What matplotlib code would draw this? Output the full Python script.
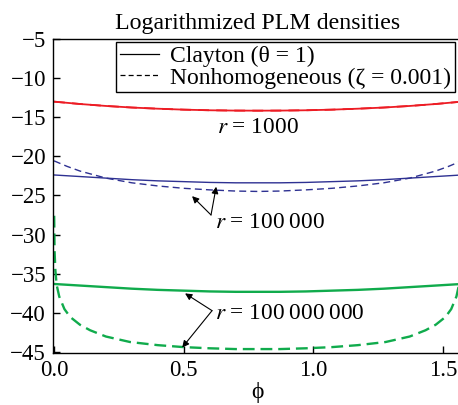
import numpy as np
import matplotlib
matplotlib.use("Agg")
import matplotlib.pyplot as plt

plt.rcParams['font.family'] = ['Liberation Serif', 'DejaVu Serif']
plt.rcParams['mathtext.fontset'] = 'stix'

# half grid (0 .. pi/4), the curves are mirrored about pi/4
phi_half = [0.0, 0.1, 0.2, 0.3, 0.4, 0.5, 0.6, 0.7, 0.785]
red_solid_half = [-13.05, -13.35, -13.6, -13.8, -13.95, -14.07, -14.15, -14.19, -14.2]
red_dash_half = [-13.05, -13.35, -13.6, -13.8, -13.95, -14.07, -14.15, -14.19, -14.2]
blue_solid_half = [-22.4, -22.6, -22.8, -23.0, -23.15, -23.25, -23.35, -23.4, -23.4]
blue_dash_phi_half = [0.0, 0.05, 0.1, 0.2, 0.3, 0.4, 0.5, 0.6, 0.7, 0.785]
blue_dash_half = [-20.6, -21.3, -21.9, -22.8, -23.4, -23.8, -24.1, -24.3, -24.45, -24.5]
green_solid_half = [-36.3, -36.5, -36.7, -36.9, -37.05, -37.15, -37.25, -37.3, -37.3]
green_dash_phi_half = [0.0005, 0.002, 0.005, 0.01, 0.02, 0.04, 0.062, 0.1, 0.139,
                       0.2, 0.293, 0.4, 0.5, 0.6, 0.7, 0.785]
green_dash_half = [-27.6, -32.0, -34.5, -36.4, -37.9, -39.5, -40.5, -41.5, -42.2,
                   -43.0, -43.7, -44.1, -44.35, -44.5, -44.6, -44.6]


def mirror(xs, ys):
    xs = np.array(xs)
    ys = np.array(ys)
    x2 = np.pi / 2 - xs[::-1][1:]
    return np.concatenate([xs, x2]), np.concatenate([ys, ys[::-1][1:]])


red = '#ed1c24'
blue = '#2e3192'
green = '#10ab4c'

fig = plt.figure(figsize=(4.58, 4.05), dpi=100)
ax = fig.add_axes([53 / 458, 0.1284, 408.6 / 458, 0.7765])

x, y = mirror(phi_half, red_solid_half)
ax.plot(x, y, color=red, lw=1.3)
x, y = mirror(phi_half, red_dash_half)
ax.plot(x, y, color=red, lw=1.3, ls=(0, (6, 4)))
x, y = mirror(phi_half, blue_solid_half)
ax.plot(x, y, color=blue, lw=1.0)
x, y = mirror(blue_dash_phi_half, blue_dash_half)
ax.plot(x, y, color=blue, lw=1.0, ls=(0, (5, 3)))
x, y = mirror(phi_half, green_solid_half)
ax.plot(x, y, color=green, lw=1.7)
x, y = mirror(green_dash_phi_half, green_dash_half)
ax.plot(x, y, color=green, lw=1.7, ls=(0, (5, 2.5)))

# legend entries in black
ax.plot([], [], color='k', lw=0.9, label='Clayton (θ = 1)')
ax.plot([], [], color='k', lw=0.9, ls=(0, (4, 2.5)), label='Nonhomogeneous (ζ = 0.001)')
h, l = ax.get_legend_handles_labels()
leg = ax.legend(h[-2:], l[-2:], loc='upper right', bbox_to_anchor=(455 / 458, 1 - 42 / 405),
                bbox_transform=fig.transFigure, borderaxespad=0, fontsize=17,
                fancybox=False, framealpha=1, edgecolor='k', handlelength=1.65,
                handletextpad=0.5, borderpad=0.15, labelspacing=0.0)
leg.get_frame().set_linewidth(1.0)

ax.text(0.785, -16.3, '$r$ = 1000', fontsize=16.8, ha='center', va='center')
ax.text(0.62, -28.5, '$r$ = 100\u2009000', fontsize=16.8, ha='left', va='center')
ax.text(0.62, -40.0, '$r$ = 100\u2009000\u2009000', fontsize=16.8, ha='left', va='center')

arw = dict(arrowstyle='-|>', color='k', lw=0.8, mutation_scale=10, shrinkA=0, shrinkB=0)
ax.annotate('', xy=(0.532, -25.1), xytext=(0.605, -27.5), arrowprops=arw)
ax.annotate('', xy=(0.625, -23.9), xytext=(0.605, -27.5), arrowprops=arw)
ax.annotate('', xy=(0.505, -37.5), xytext=(0.609, -39.7), arrowprops=arw)
ax.annotate('', xy=(0.494, -44.4), xytext=(0.609, -39.7), arrowprops=arw)

ax.set_xlim(-0.004, np.pi / 2)
ax.set_ylim(-45.1, -5)
ax.set_xticks([0.0, 0.5, 1.0, 1.5])
ax.set_xticklabels(['0.0', '0.5', '1.0', '1.5'])
ax.set_yticks(np.arange(-45, -4, 5))
ax.tick_params(direction='in', length=5, width=1, labelsize=16.5, pad=5)
for s in ax.spines.values():
    s.set_linewidth(1.0)
ax.set_xlabel('ϕ', fontsize=17, labelpad=1)
ax.set_title('Logarithmized PLM densities', fontsize=17.2, pad=7)

fig.savefig('out.png', dpi=100)
